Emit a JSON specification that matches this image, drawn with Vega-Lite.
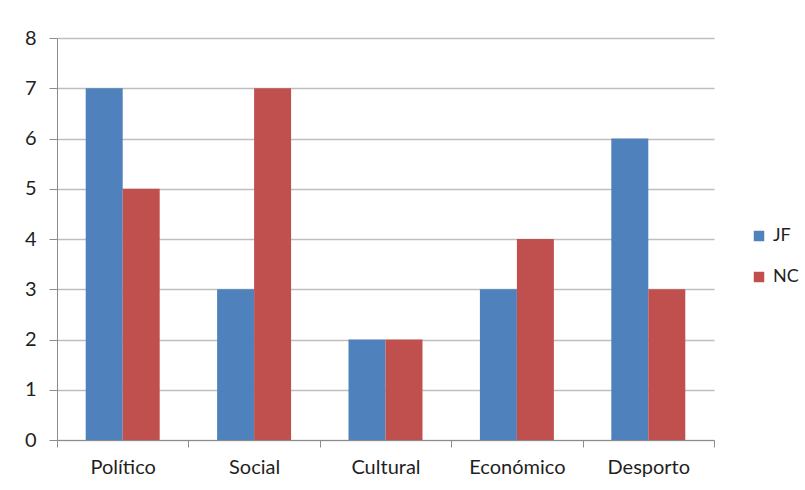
{
  "$schema": "https://vega.github.io/schema/vega-lite/v6.json",
  "width": 657,
  "height": 402,
  "autosize": "none",
  "padding": {"left": 57, "top": 38, "right": 91, "bottom": 50},
  "background": "white",
  "config": {
    "view": {"stroke": null},
    "font": "Lato"
  },
  "data": {
    "values": [
      {"categoria": "Político", "serie": "JF", "valor": 7},
      {"categoria": "Político", "serie": "NC", "valor": 5},
      {"categoria": "Social", "serie": "JF", "valor": 3},
      {"categoria": "Social", "serie": "NC", "valor": 7},
      {"categoria": "Cultural", "serie": "JF", "valor": 2},
      {"categoria": "Cultural", "serie": "NC", "valor": 2},
      {"categoria": "Económico", "serie": "JF", "valor": 3},
      {"categoria": "Económico", "serie": "NC", "valor": 4},
      {"categoria": "Desporto", "serie": "JF", "valor": 6},
      {"categoria": "Desporto", "serie": "NC", "valor": 3}
    ]
  },
  "mark": {"type": "bar"},
  "encoding": {
    "x": {
      "field": "categoria",
      "type": "nominal",
      "sort": null,
      "scale": {"paddingInner": 0, "paddingOuter": 0},
      "axis": {
        "title": null,
        "labelAngle": 0,
        "labelFont": "Lato",
        "labelFontSize": 20,
        "labelColor": "#1f1f1f",
        "labelPadding": 10,
        "tickBand": "extent",
        "tickSize": 7,
        "tickColor": "#8c8c8c",
        "domainColor": "#8c8c8c",
        "grid": false
      }
    },
    "xOffset": {
      "field": "serie",
      "type": "nominal",
      "scale": {"paddingInner": 0, "paddingOuter": 0.776}
    },
    "y": {
      "field": "valor",
      "type": "quantitative",
      "scale": {"domain": [0, 8], "nice": false},
      "axis": {
        "title": null,
        "values": [0, 1, 2, 3, 4, 5, 6, 7, 8],
        "labelFont": "Lato",
        "labelFontSize": 20,
        "labelColor": "#1f1f1f",
        "labelPadding": 13,
        "tickSize": 8,
        "tickColor": "#8c8c8c",
        "domainColor": "#8c8c8c",
        "gridColor": "#bfbfbf",
        "gridWidth": 1.3
      }
    },
    "color": {
      "field": "serie",
      "type": "nominal",
      "scale": {"domain": ["JF", "NC"], "range": ["#4f81bd", "#c0504d"]},
      "legend": {
        "title": null,
        "orient": "none",
        "legendX": 693,
        "legendY": 189,
        "padding": 0,
        "symbolType": "square",
        "symbolSize": 110,
        "symbolStrokeWidth": 0,
        "labelFont": "Lato",
        "labelFontSize": 18,
        "labelColor": "#1f1f1f",
        "labelOffset": 5,
        "rowPadding": 23
      }
    }
  }
}
